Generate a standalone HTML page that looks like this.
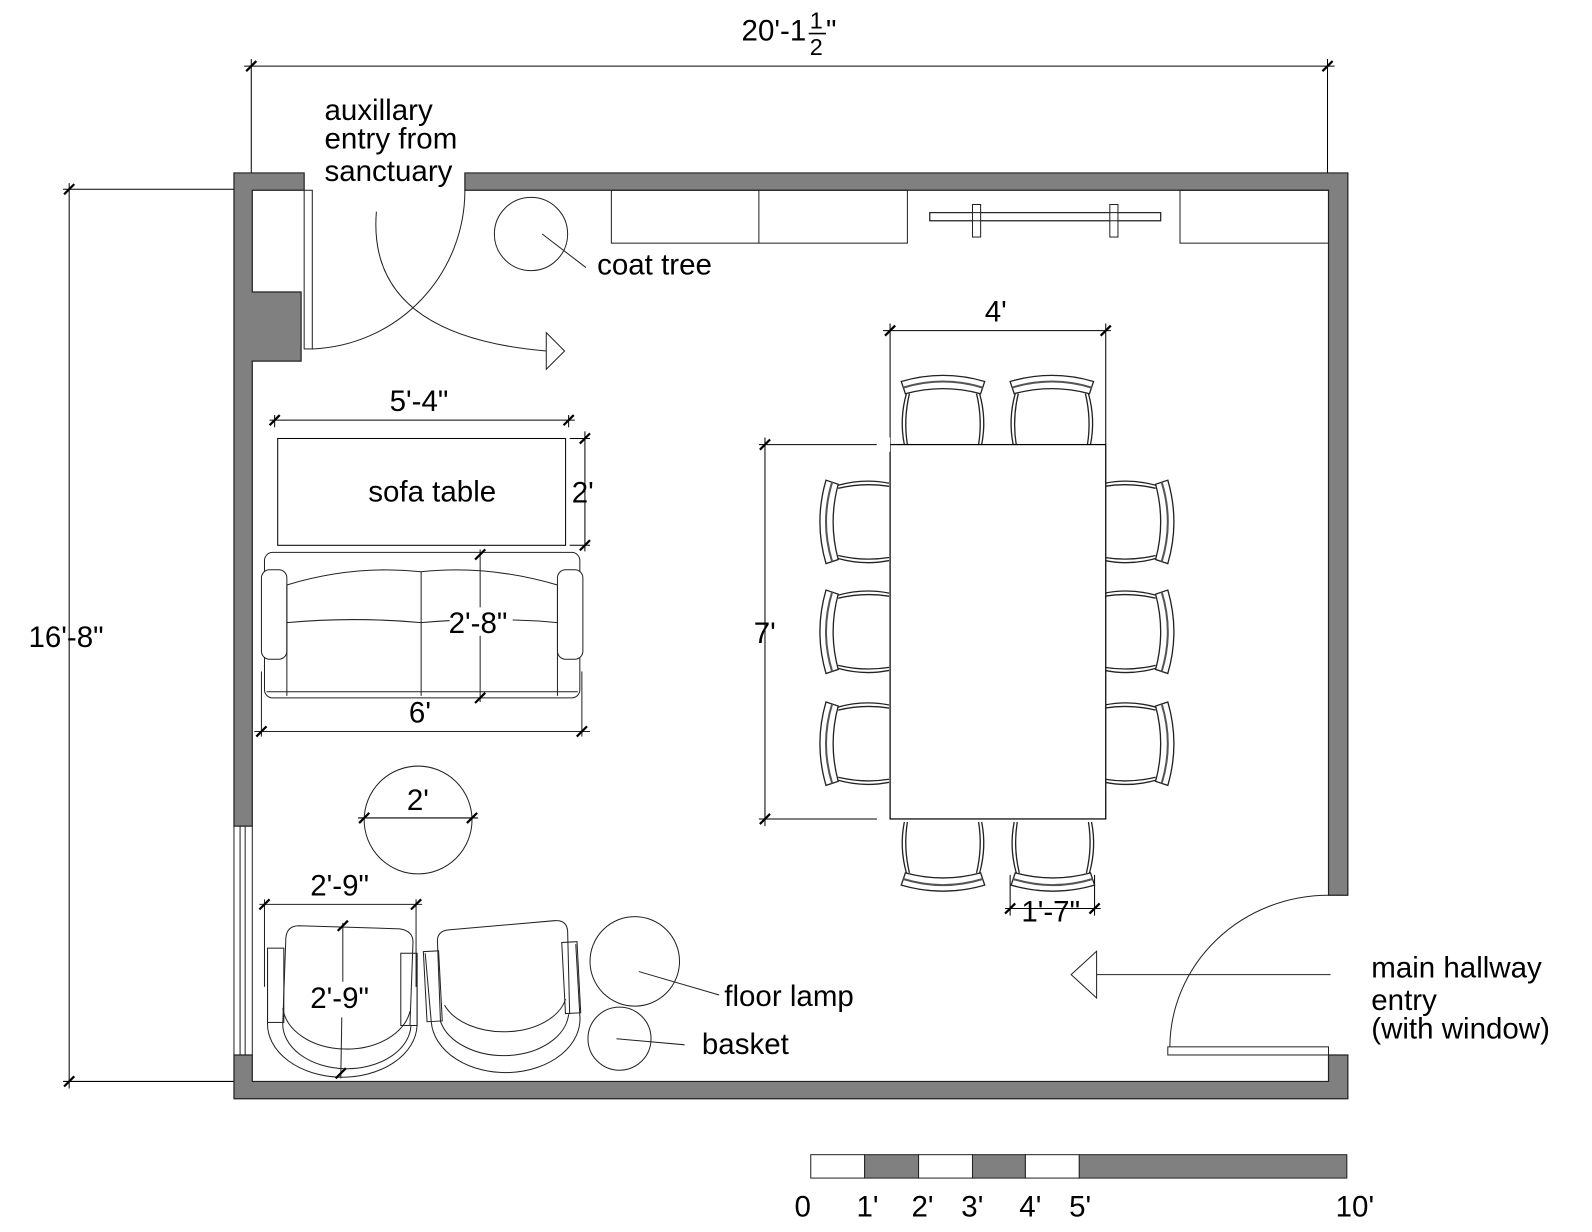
<!DOCTYPE html>
<html><head><meta charset="utf-8"><style>
html,body{margin:0;padding:0;background:#fff;}
svg{display:block;}
text{font-family:"Liberation Sans",Arial,sans-serif;font-size:29px;fill:#000;}
</style></head><body>
<svg width="1592" height="1232" viewBox="0 0 1565 1211" preserveAspectRatio="none" xmlns="http://www.w3.org/2000/svg">
<defs>
<g id="chair" fill="none" stroke="#222" stroke-width="1.3">
<path d="M0,10 Q41,-2 82,10 L78,22 Q41,12 4,22 Z" fill="#fff"/>
<path d="M2,16 Q41,4 80,16" stroke="#555" stroke-width="2"/>
<path d="M5,22 Q-2,47 3,72"/><path d="M8,22 Q2,47 6,72"/>
<path d="M77,22 Q84,47 79,72"/><path d="M74,22 Q80,47 76,72"/>
</g>
<g id="tick"><line x1="-5" y1="5" x2="5" y2="-5" stroke="#000" stroke-width="2.2"/></g>
</defs>
<g stroke="#000" stroke-width="1" fill="none">
<line x1="240" y1="65" x2="1312" y2="65"/>
<line x1="247" y1="58" x2="247" y2="170"/><line x1="1305" y1="58" x2="1305" y2="170"/>
<line x1="68" y1="180" x2="68" y2="1070"/>
<line x1="62" y1="186" x2="232" y2="186"/><line x1="62" y1="1063" x2="232" y2="1063"/>
</g>
<use href="#tick" x="247" y="65"/><use href="#tick" x="1305" y="65"/>
<use href="#tick" x="68" y="186"/><use href="#tick" x="68" y="1063"/>
<text x="729" y="40">20'-1</text><text x="796" y="28" style="font-size:23px">1</text><line x1="795" y1="33" x2="812" y2="33" stroke="#000" stroke-width="1.5"/><text x="796" y="54" style="font-size:23px">2</text><text x="812" y="40">"</text>
<text x="28" y="636">16'-8"</text>

<g fill="#808080" stroke="#222" stroke-width="1.2">
<path d="M230,170 L299,170 L299,187 L248,187 L248,287 L296,287 L296,355 L248,355 L248,812 L230,812 Z"/>
<path d="M457,170 L1325,170 L1325,880 L1306,880 L1306,187 L457,187 Z"/>
<path d="M230,1037 L248,1037 L248,1063 L1306,1063 L1306,1037 L1325,1037 L1325,1080 L230,1080 Z"/>
</g>
<g stroke="#222" stroke-width="1" fill="none">
<line x1="230" y1="812" x2="230" y2="1037"/><line x1="236" y1="812" x2="236" y2="1037"/><line x1="241" y1="812" x2="241" y2="1037"/><line x1="248" y1="812" x2="248" y2="1037"/>
<rect x="299" y="187" width="8" height="156" fill="#fff"/>
<path d="M307,343 A156,156 0 0 0 457,187"/>
<path d="M370,208 Q360,330 537,345"/>
<path d="M537,327 L555,345 L537,363 Z" fill="#fff"/>
<circle cx="522" cy="230" r="36"/>
<line x1="533" y1="230" x2="576" y2="263"/>
<rect x="601" y="187" width="291" height="52"/><line x1="746" y1="187" x2="746" y2="239"/>
<rect x="1160" y="187" width="146" height="52"/>
<rect x="914" y="209" width="227" height="8"/>
<rect x="956" y="201" width="8" height="32" fill="#fff"/><rect x="1091" y="201" width="8" height="32" fill="#fff"/>
<rect x="914" y="209" width="227" height="8"/>
</g>
<text x="319" y="118">auxillary</text><text x="319" y="146">entry from</text><text x="319" y="178">sanctuary</text>
<text x="587" y="270">coat tree</text>

<g stroke="#000" stroke-width="1" fill="none">
<line x1="868" y1="325" x2="1092" y2="325"/>
<line x1="875" y1="318" x2="875" y2="437"/><line x1="1087" y1="318" x2="1087" y2="437"/>
<line x1="752" y1="430" x2="752" y2="812"/>
<line x1="746" y1="437" x2="862" y2="437"/><line x1="746" y1="805" x2="862" y2="805"/>
<line x1="988" y1="893" x2="1082" y2="893"/>
<line x1="993" y1="860" x2="993" y2="900"/><line x1="1076" y1="860" x2="1076" y2="900"/>
</g>
<use href="#tick" x="875" y="325"/><use href="#tick" x="1087" y="325"/>
<use href="#tick" x="752" y="437"/><use href="#tick" x="752" y="805"/>
<use href="#tick" x="993" y="893"/><use href="#tick" x="1076" y="893"/>
<use href="#chair" transform="translate(886,365)"/>
<use href="#chair" transform="translate(993,365)"/>
<use href="#chair" transform="translate(968,880) rotate(180)"/>
<use href="#chair" transform="translate(1076,880) rotate(180)"/>
<use href="#chair" transform="translate(802,554) rotate(-90)"/>
<use href="#chair" transform="translate(802,662) rotate(-90)"/>
<use href="#chair" transform="translate(802,772) rotate(-90)"/>
<use href="#chair" transform="translate(1158,472) rotate(90)"/>
<use href="#chair" transform="translate(1158,580) rotate(90)"/>
<use href="#chair" transform="translate(1158,690) rotate(90)"/>
<rect x="875" y="437" width="212" height="368" fill="#fff" stroke="#000" stroke-width="1.2"/>
<rect x="862" y="430" width="13" height="14" fill="#fff"/>
<text x="968" y="316">4'</text>
<text x="741" y="632">7'</text>
<text x="1004" y="906">1'-7"</text>

<g stroke="#000" stroke-width="1" fill="none">
<rect x="273" y="431" width="283" height="105"/>
<line x1="265" y1="413" x2="565" y2="413"/>
<line x1="270" y1="408" x2="270" y2="420"/><line x1="559" y1="408" x2="559" y2="420"/>
<line x1="575" y1="424" x2="575" y2="542"/>
<line x1="560" y1="431" x2="580" y2="431"/><line x1="560" y1="536" x2="580" y2="536"/>
</g>
<use href="#tick" x="270" y="413"/><use href="#tick" x="559" y="413"/>
<use href="#tick" x="575" y="431"/><use href="#tick" x="575" y="536"/>
<text x="362" y="493">sofa table</text>
<text x="383" y="404">5'-4"</text>
<text x="562" y="494">2'</text>

<g stroke="#222" stroke-width="1" fill="none">
<rect x="260" y="543" width="310" height="143" rx="8"/>
<line x1="262" y1="680" x2="568" y2="680"/>
<rect x="257" y="560" width="25" height="88" rx="8" fill="#fff"/>
<rect x="548" y="560" width="25" height="88" rx="8" fill="#fff"/>
<path d="M282,575 Q348,555 414,562 Q480,555 548,575"/>
<path d="M282,612 Q348,606 414,612 Q480,606 548,612"/>
<line x1="414" y1="562" x2="414" y2="684"/>
<line x1="282" y1="575" x2="282" y2="684"/><line x1="548" y1="575" x2="548" y2="684"/>
<line x1="250" y1="719" x2="580" y2="719"/>
<line x1="257" y1="660" x2="257" y2="724"/><line x1="572" y1="660" x2="572" y2="724"/>
<line x1="472" y1="540" x2="472" y2="690"/>
</g>
<use href="#tick" x="257" y="719"/><use href="#tick" x="572" y="719"/>
<use href="#tick" x="472" y="545"/><use href="#tick" x="472" y="686"/>
<rect x="442" y="597" width="62" height="28" fill="#fff"/>
<text x="441" y="622">2'-8"</text>
<text x="402" y="710">6'</text>

<circle cx="411" cy="806" r="53" fill="none" stroke="#222"/>
<line x1="352" y1="804" x2="470" y2="804" stroke="#000"/>
<use href="#tick" x="358" y="804"/><use href="#tick" x="464" y="804"/>
<text x="400" y="796">2'</text>

<g stroke="#222" stroke-width="1" fill="none">
<path d="M263,935 L263,1005 A73,52 0 0 0 410,1008 L410,937"/>
<path d="M278,1005 L281,922 Q282,910 294,910 L393,913 Q406,915 406,926 L403,1008"/>
<path d="M278,991 A63,44 0 0 0 403,994"/>
<path d="M278,1005 A63,44 0 0 0 404,1008"/>
<rect x="263" y="932" width="16" height="73"/>
<rect x="394" y="937" width="16" height="71"/>
<path d="M418,937 L424,1005 A72,52 0 0 0 570,998 L566,928"/>
<path d="M433,1004 A64,44 0 0 0 559,997"/>
<path d="M433,1004 L430,925 Q430,915 441,914 L545,905 Q557,904 558,915 L560,997"/>
<path d="M437,988 A62,40 0 0 0 556,982"/>
<rect x="418" y="935" width="15" height="69" transform="rotate(-3 425 970)"/>
<rect x="554" y="926" width="15" height="70" transform="rotate(-3 561 960)"/>
<line x1="255" y1="889" x2="415" y2="889"/>
<line x1="260" y1="884" x2="260" y2="970"/><line x1="409" y1="884" x2="409" y2="970"/>
<line x1="337" y1="907" x2="337" y2="965"/><line x1="336" y1="1000" x2="335" y2="1060"/>
</g>
<use href="#tick" x="260" y="889"/><use href="#tick" x="409" y="889"/>
<use href="#tick" x="337" y="910"/><use href="#tick" x="335" y="1055"/>
<text x="305" y="880">2'-9"</text>
<text x="305" y="991">2'-9"</text>

<g stroke="#222" stroke-width="1" fill="none">
<circle cx="624" cy="945" r="44"/><line x1="628" y1="955" x2="707" y2="978"/>
<circle cx="609" cy="1021" r="31"/><line x1="606" y1="1021" x2="673" y2="1027"/>
</g>
<text x="712" y="989">floor lamp</text>
<text x="690" y="1036">basket</text>

<g stroke="#222" stroke-width="1" fill="none">
<rect x="1148" y="1029" width="158" height="8" fill="#fff"/>
<path d="M1150,1029 A156,150 0 0 1 1306,880"/>
<line x1="1308" y1="958" x2="1078" y2="958"/>
<path d="M1078,935 L1053,958 L1078,981 Z" fill="#fff"/>
</g>
<text x="1348" y="961">main hallway</text>
<text x="1348" y="993">entry</text>
<text x="1348" y="1021">(with window)</text>

<g stroke="#222" stroke-width="1">
<rect x="797" y="1135" width="53" height="23" fill="#fff"/>
<rect x="850" y="1135" width="53" height="23" fill="#808080"/>
<rect x="903" y="1135" width="53" height="23" fill="#fff"/>
<rect x="956" y="1135" width="52" height="23" fill="#808080"/>
<rect x="1008" y="1135" width="53" height="23" fill="#fff"/>
<rect x="1061" y="1135" width="263" height="23" fill="#808080"/>
</g>
<text x="781" y="1196">0</text><text x="842" y="1196">1'</text><text x="896" y="1196">2'</text>
<text x="945" y="1196">3'</text><text x="1002" y="1196">4'</text><text x="1051" y="1196">5'</text>
<text x="1313" y="1196">10'</text>
</svg>
</body></html>
